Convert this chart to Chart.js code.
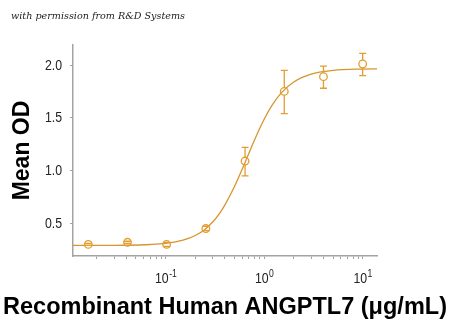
<!DOCTYPE html>
<html>
<head>
<meta charset="utf-8">
<title>ANGPTL7 dose response</title>
<script src="https://cdn.jsdelivr.net/npm/chart.js@4.4.1/dist/chart.umd.min.js"></script>
<style>
  html, body { margin: 0; padding: 0; background: #fff; }
  #wrap { position: relative; width: 450px; height: 329px; }
</style>
</head>
<body>
<div id="wrap"><canvas id="doseChart" width="450" height="329"></canvas></div>
<script>
// measured points: concentration (ug/mL), mean OD and error bar ends
const concentrations = [0.0164, 0.041, 0.1024, 0.256, 0.64, 1.6, 4, 10];
const meanOD = [0.30, 0.32, 0.30, 0.45, 1.09, 1.75, 1.89, 2.01];
const odLow = [0.29, 0.31, 0.28, 0.43, 0.95, 1.54, 1.78, 1.90];
const odHigh = [0.31, 0.33, 0.32, 0.47, 1.22, 1.95, 1.99, 2.11];

// fitted curve read along its length
const fitX = [0.0115, 0.02, 0.04, 0.07, 0.1, 0.15, 0.2, 0.25, 0.3, 0.35, 0.4, 0.5, 0.6, 0.7, 0.8, 1.0, 1.2, 1.5, 2, 3, 5, 10, 14];
const fitY = [0.29, 0.29, 0.292, 0.299, 0.31, 0.34, 0.384, 0.442, 0.512, 0.59, 0.675, 0.848, 1.015, 1.164, 1.292, 1.486, 1.617, 1.739, 1.84, 1.914, 1.949, 1.962, 1.964];

// axis ticks
const xDecades = [0.1, 1, 10];
const yTickValues = [0.5, 1.0, 1.5, 2.0];

const X_MIN = 0.01147, X_MAX = 13.98;
const Y_MIN = 0.19, Y_MAX = 2.19;

const dotColor = '#e39d31';
const lineColor = '#d6962c';
const axisColor = '#a3a3a3';
const sansFont = '"Liberation Sans", Arial, sans-serif';

document.addEventListener('DOMContentLoaded', function() {
    // minor + major tick marks for the log axis
    const xTickMarks = [];
    [0.01, 0.1, 1, 10].forEach(d => {
        for (let k = 1; k <= 9; k++) {
            const v = +(d * k).toPrecision(3);
            if (v >= X_MIN && v <= X_MAX) xTickMarks.push(v);
        }
    });

    // vertical error bars with caps
    const errorBars = {
        id: 'errorBars',
        afterDatasetsDraw(chart) {
            const {ctx, scales: {x, y}} = chart;
            const r = 3.8;
            ctx.save();
            ctx.strokeStyle = dotColor;
            ctx.lineWidth = 1.3;
            concentrations.forEach((c, i) => {
                const px = x.getPixelForValue(c);
                const pm = y.getPixelForValue(meanOD[i]);
                const pl = y.getPixelForValue(odLow[i]);
                const ph = y.getPixelForValue(odHigh[i]);
                ctx.beginPath();
                if (ph < pm - r) { ctx.moveTo(px, ph); ctx.lineTo(px, pm - r); }
                if (pl > pm + r) { ctx.moveTo(px, pm + r); ctx.lineTo(px, pl); }
                ctx.moveTo(px - 3.5, ph); ctx.lineTo(px + 3.5, ph);
                ctx.moveTo(px - 3.5, pl); ctx.lineTo(px + 3.5, pl);
                ctx.stroke();
            });
            ctx.restore();
        }
    };

    // narrow text: regular face squeezed horizontally
    function narrowText(ctx, text, x, y, size, align) {
        const squeeze = 0.82;
        ctx.font = size + 'px ' + sansFont;
        const w = ctx.measureText(text).width * squeeze;
        let left = x;
        if (align === 'right') left = x - w;
        if (align === 'center') left = x - w / 2;
        ctx.save();
        ctx.translate(left, y);
        ctx.scale(squeeze, 1);
        ctx.textAlign = 'left';
        ctx.fillText(text, 0, 0);
        ctx.restore();
        return w;
    }

    function narrowWidth(ctx, text, size) {
        ctx.font = size + 'px ' + sansFont;
        return ctx.measureText(text).width * 0.82;
    }

    // tick labels, x axis title and the credit line
    const extraText = {
        id: 'extraText',
        afterDraw(chart) {
            const {ctx, scales: {x, y}} = chart;
            ctx.save();
            ctx.fillStyle = '#222';

            // y labels
            ctx.textBaseline = 'middle';
            yTickValues.forEach(v => {
                narrowText(ctx, v.toFixed(1), 62, y.getPixelForValue(v) + 0.5, 15, 'right');
            });

            // x labels as 10^n
            ctx.textBaseline = 'alphabetic';
            xDecades.forEach(v => {
                const exp = String(Math.round(Math.log10(v)));
                const wb = narrowWidth(ctx, '10', 15);
                const we = narrowWidth(ctx, exp, 10.5);
                const left = x.getPixelForValue(v) - (wb + we) / 2;
                narrowText(ctx, '10', left, 283, 15, 'left');
                narrowText(ctx, exp, left + wb + 0.5, 277, 10.5, 'left');
            });

            // x axis title, wider than the plot area
            ctx.fillStyle = '#000';
            ctx.textAlign = 'center';
            ctx.textBaseline = 'middle';
            ctx.font = 'bold 23.5px ' + sansFont;
            ctx.fillText('Recombinant Human ANGPTL7 (\u03bcg/mL)', 225, 308);

            ctx.fillStyle = '#1a1a1a';
            ctx.textAlign = 'left';
            ctx.textBaseline = 'alphabetic';
            ctx.font = 'italic 10px "DejaVu Serif", serif';
            ctx.fillText('with permission from R&D Systems', 11, 19, 174);
            ctx.restore();
        }
    };

    const ctx = document.getElementById('doseChart').getContext('2d');
    new Chart(ctx, {
        data: {
            datasets: [
                {
                    type: 'scatter',
                    data: concentrations.map((c, i) => ({x: c, y: meanOD[i]})),
                    pointStyle: 'circle',
                    pointRadius: 3.8,
                    pointBorderWidth: 1.3,
                    borderColor: dotColor,
                    backgroundColor: 'rgba(255,255,255,0)',
                    order: 0
                },
                {
                    type: 'line',
                    data: fitX.map((v, i) => ({x: v, y: fitY[i]})),
                    borderColor: lineColor,
                    borderWidth: 1.3,
                    pointRadius: 0,
                    cubicInterpolationMode: 'monotone',
                    fill: false,
                    order: 1
                }
            ]
        },
        options: {
            responsive: false,
            animation: false,
            devicePixelRatio: 1,
            layout: { padding: { top: 45, right: 73, left: 0, bottom: 0 } },
            plugins: {
                legend: { display: false },
                tooltip: { enabled: false }
            },
            scales: {
                x: {
                    type: 'logarithmic',
                    min: X_MIN,
                    max: X_MAX,
                    afterBuildTicks: s => { s.ticks = xTickMarks.map(v => ({value: v})); },
                    afterFit: s => { s.height = 73; },
                    grid: { drawOnChartArea: false, drawTicks: true, tickLength: 3, color: axisColor },
                    border: { display: true, color: axisColor, width: 1.5 },
                    ticks: { display: false }
                },
                y: {
                    min: Y_MIN,
                    max: Y_MAX,
                    afterBuildTicks: s => { s.ticks = yTickValues.map(v => ({value: v})); },
                    afterFit: s => { s.width = 73; },
                    grid: { drawOnChartArea: false, drawTicks: true, tickLength: 3, color: axisColor },
                    border: { display: true, color: axisColor, width: 1.5 },
                    ticks: { display: false },
                    title: {
                        display: true,
                        text: 'Mean OD',
                        color: '#000',
                        font: { family: sansFont, size: 23, weight: 'bold' },
                        padding: { top: 9, bottom: 0 }
                    }
                }
            }
        },
        plugins: [errorBars, extraText]
    });
});
</script>
</body>
</html>
